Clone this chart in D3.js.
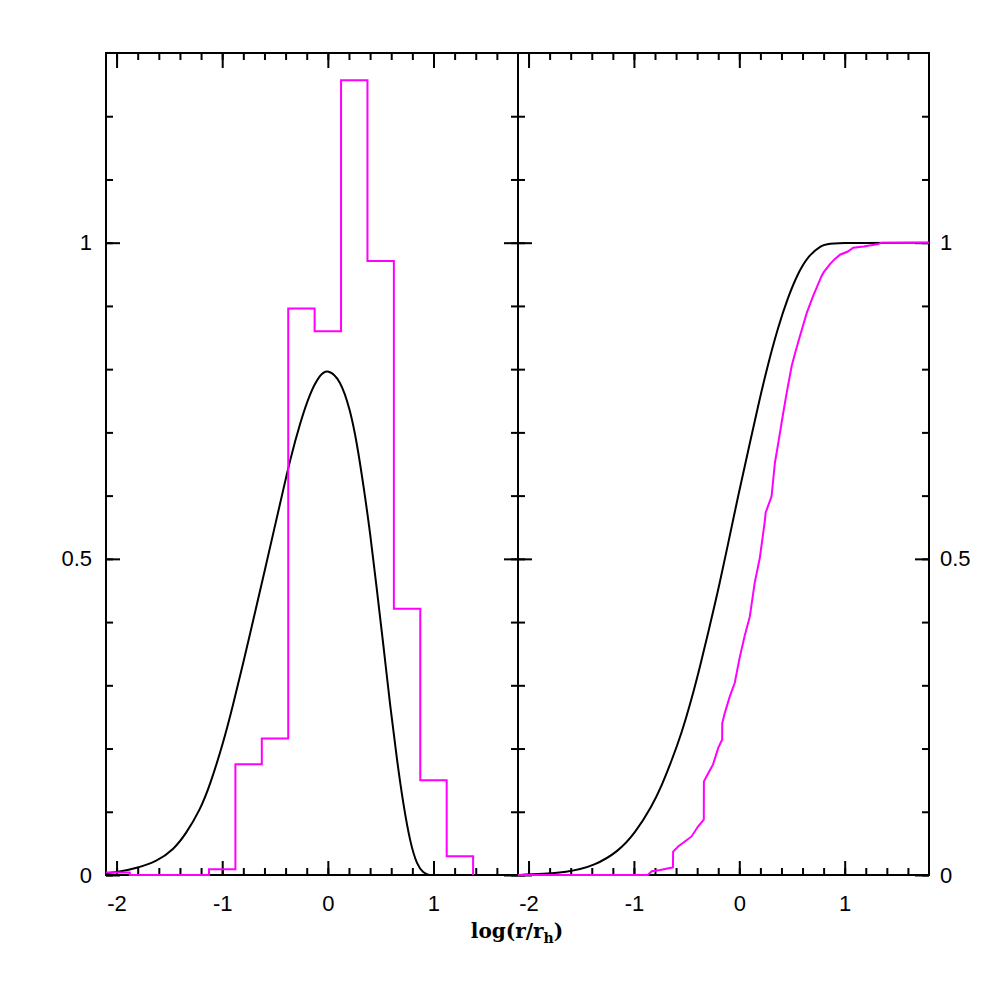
<!DOCTYPE html>
<html>
<head>
<meta charset="utf-8">
<script src="https://cdn.jsdelivr.net/npm/d3@7"></script>
<style>
  body { margin: 0; background: #fff; }
  .tick text { font-family: "Liberation Sans", Arial, sans-serif; font-size: 22px; fill: #000; }
  .axis path { display: none; }
  .axis line { stroke: #000; stroke-width: 2; }
</style>
</head>
<body>
<div id="wrapper"></div>
<script>

// histogram of log(r/rh): lower bin edges and heights (bin width 0.25)
const binLower = [-2.125, -1.875, -1.625, -1.375, -1.125, -0.875, -0.625, -0.375, -0.125, 0.125, 0.375, 0.625, 0.875, 1.125];
const binWidth = 0.25;
const binHeight = [0.004, 0, 0, 0, 0.009, 0.175, 0.216, 0.896, 0.86, 1.257, 0.971, 0.421, 0.150, 0.0295];

// model density (black curve, left)
const pdfX = [-2.1, -2.0, -1.81, -1.62, -1.46, -1.34, -1.21, -1.12, -0.99, -0.90, -0.80, -0.705, -0.61, -0.516, -0.421, -0.357, -0.263, -0.168, -0.073, 0, 0.117, 0.211, 0.275, 0.338, 0.401, 0.464, 0.527, 0.59, 0.654, 0.717, 0.78, 0.843, 0.906, 0.95, 1.0];
const pdfY = [0.003, 0.004, 0.011, 0.0215, 0.040, 0.066, 0.103, 0.140, 0.209, 0.267, 0.336, 0.404, 0.4725, 0.541, 0.61, 0.657, 0.715, 0.763, 0.792, 0.80, 0.784, 0.736, 0.6835, 0.615, 0.541, 0.451, 0.362, 0.267, 0.182, 0.1085, 0.051, 0.016, 0.003, 0, 0];

// model cumulative (black curve, right)
const cdfX = [-2.1, -2.0, -1.625, -1.37, -1.15, -0.99, -0.83, -0.737, -0.642, -0.548, -0.453, -0.374, -0.295, -0.2, -0.12, -0.012, 0.083, 0.178, 0.272, 0.367, 0.462, 0.557, 0.652, 0.778, 0.86, 1.8];
const cdfY = [0, 0.0005, 0.004, 0.015, 0.037, 0.066, 0.1085, 0.141, 0.181, 0.224, 0.278, 0.329, 0.383, 0.451, 0.513, 0.599, 0.670, 0.742, 0.808, 0.866, 0.914, 0.952, 0.979, 0.996, 1.0, 1.0];

// sample cumulative (magenta, right)
const ecdfX = [-2.1, -0.87, -0.83, -0.75, -0.66, -0.63, -0.628, -0.58, -0.517, -0.453, -0.39, -0.337, -0.336, -0.295, -0.25, -0.2, -0.163, -0.162, -0.138, -0.09, -0.043, 0.0, 0.05, 0.1, 0.146, 0.195, 0.24, 0.25, 0.306, 0.338, 0.37, 0.417, 0.45, 0.497, 0.53, 0.575, 0.64, 0.70, 0.78, 0.8, 0.86, 0.905, 0.955, 1.03, 1.08, 1.18, 1.32, 1.35, 1.8];
const ecdfY = [0, 0, 0.006, 0.008, 0.011, 0.012, 0.037, 0.045, 0.053, 0.061, 0.077, 0.0875, 0.148, 0.161, 0.1745, 0.201, 0.214, 0.240, 0.256, 0.2825, 0.304, 0.341, 0.3775, 0.409, 0.462, 0.502, 0.557, 0.573, 0.599, 0.652, 0.6835, 0.731, 0.763, 0.805, 0.826, 0.852, 0.889, 0.9155, 0.947, 0.953, 0.966, 0.974, 0.981, 0.986, 0.992, 0.994, 0.998, 1.0, 1.0];

// axis ticks and labels
const xMajor = [-2, -1, 0, 1];
const xMinor = [-2, -1.8, -1.6, -1.4, -1.2, -1, -0.8, -0.6, -0.4, -0.2, 0, 0.2, 0.4, 0.6, 0.8, 1, 1.2, 1.4, 1.6];
const yMajor = [0, 0.5, 1];
const yMinor = [0, 0.1, 0.2, 0.3, 0.4, 0.5, 0.6, 0.7, 0.8, 0.9, 1, 1.1, 1.2];
const xDomain = [-2.1, 1.8];
const yDomain = [0, 1.3];

const W = 981, H = 981;
const plotTop = 53, plotBottom = 875;
const panels = [{x0: 106, x1: 518, id: "left"}, {x0: 518, x1: 929, id: "right"}];

const svg = d3.select("#wrapper").append("svg")
    .attr("width", W)
    .attr("height", H);

const y = d3.scaleLinear().domain(yDomain).range([plotBottom, plotTop]);
const fmt = d => String(d);

panels.forEach(function(p, pi) {
  p.x = d3.scaleLinear().domain(xDomain).range([p.x0, p.x1]);
  const x = p.x;

  svg.append("clipPath").attr("id", "clip-" + p.id)
    .append("rect")
      .attr("x", p.x0).attr("y", plotTop - 2)
      .attr("width", p.x1 - p.x0).attr("height", plotBottom - plotTop + 4);

  // minor + major ticks on all four sides (pointing inward)
  svg.append("g").attr("class", "axis")
      .attr("transform", "translate(0," + plotBottom + ")")
      .call(d3.axisBottom(x).tickValues(xMinor).tickSize(-7).tickFormat(""));
  svg.append("g").attr("class", "axis")
      .attr("transform", "translate(0," + plotBottom + ")")
      .call(d3.axisBottom(x).tickValues(xMajor).tickSize(-14).tickPadding(20).tickFormat(fmt));
  svg.append("g").attr("class", "axis")
      .attr("transform", "translate(0," + plotTop + ")")
      .call(d3.axisTop(x).tickValues(xMinor).tickSize(-7).tickFormat(""));
  svg.append("g").attr("class", "axis")
      .attr("transform", "translate(0," + plotTop + ")")
      .call(d3.axisTop(x).tickValues(xMajor).tickSize(-15).tickFormat(""));

  const leftFmt = pi === 0 ? fmt : "";
  const rightFmt = pi === 1 ? fmt : "";
  svg.append("g").attr("class", "axis")
      .attr("transform", "translate(" + p.x0 + ",0)")
      .call(d3.axisLeft(y).tickValues(yMinor).tickSize(-7).tickFormat(""));
  svg.append("g").attr("class", "axis")
      .attr("transform", "translate(" + p.x0 + ",0)")
      .call(d3.axisLeft(y).tickValues(yMajor).tickSize(-14).tickPadding(14).tickFormat(leftFmt));
  svg.append("g").attr("class", "axis")
      .attr("transform", "translate(" + p.x1 + ",0)")
      .call(d3.axisRight(y).tickValues(yMinor).tickSize(-7).tickFormat(""));
  svg.append("g").attr("class", "axis")
      .attr("transform", "translate(" + p.x1 + ",0)")
      .call(d3.axisRight(y).tickValues(yMajor).tickSize(-14).tickPadding(11).tickFormat(rightFmt));

  // frame
  svg.append("rect")
      .attr("x", p.x0).attr("y", plotTop)
      .attr("width", p.x1 - p.x0).attr("height", plotBottom - plotTop)
      .attr("fill", "none").attr("stroke", "#000").attr("stroke-width", 2);
});

const L = panels[0], R = panels[1];

// left: model density
svg.append("path")
    .attr("clip-path", "url(#clip-left)")
    .attr("d", d3.line()
        .x((d, i) => L.x(pdfX[i]))
        .y(d => y(d))
        .curve(d3.curveBasis)(pdfY))
    .attr("fill", "none")
    .attr("stroke", "#000")
    .attr("stroke-width", 2);

// left: histogram as a step outline
const histPts = binLower.map((b, i) => [b, binHeight[i]]);
histPts.push([binLower[binLower.length - 1] + binWidth, 0]);
svg.append("path")
    .attr("clip-path", "url(#clip-left)")
    .attr("d", d3.line()
        .x(d => L.x(d[0]))
        .y(d => y(d[1]))
        .curve(d3.curveStepAfter)(histPts))
    .attr("fill", "none")
    .attr("stroke", "#ff00ff")
    .attr("stroke-width", 2);

// right: model cumulative
svg.append("path")
    .attr("clip-path", "url(#clip-right)")
    .attr("d", d3.line()
        .x((d, i) => R.x(cdfX[i]))
        .y(d => y(d))
        .curve(d3.curveBasis)(cdfY))
    .attr("fill", "none")
    .attr("stroke", "#000")
    .attr("stroke-width", 2);

// right: sample cumulative
svg.append("path")
    .attr("clip-path", "url(#clip-right)")
    .attr("d", d3.line()
        .x((d, i) => R.x(ecdfX[i]))
        .y(d => y(d))(ecdfY))
    .attr("fill", "none")
    .attr("stroke", "#ff00ff")
    .attr("stroke-width", 2);

// x label
const xlab = svg.append("text")
    .attr("x", 517)
    .attr("y", 938)
    .attr("text-anchor", "middle")
    .style("font-family", "'DejaVu Serif', serif")
    .style("font-weight", "bold")
    .style("font-size", "20px");
xlab.append("tspan").text("log(r/r");
xlab.append("tspan").attr("dy", 5).style("font-size", "14px").text("h");
xlab.append("tspan").attr("dy", -5).text(")");

</script>
</body>
</html>
